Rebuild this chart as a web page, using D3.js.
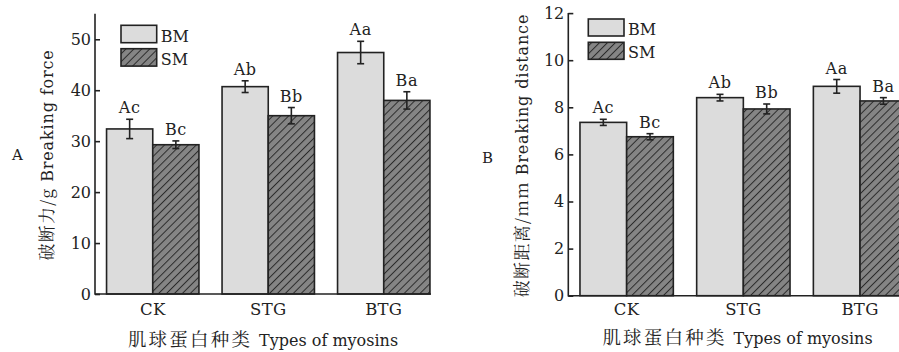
<!DOCTYPE html>
<html>
<head>
<meta charset="utf-8" />
<title>Breaking force and distance</title>
<style>
  body { margin: 0; background: #fff; }
</style>
</head>
<body>
<svg id="chart" width="899" height="352"></svg>
<script src="https://cdn.jsdelivr.net/npm/d3@7"></script>
<script>
// data
const categories = ["CK", "STG", "BTG"];
const series = ["BM", "SM"];

const forceBM = [32.4, 40.7, 47.4];
const forceBMErr = [1.9, 1.15, 2.2];
const forceSM = [29.3, 35.0, 38.0];
const forceSMErr = [0.75, 1.6, 1.7];

const distBM = [7.36, 8.41, 8.89];
const distBMErr = [0.13, 0.14, 0.29];
const distSM = [6.75, 7.93, 8.27];
const distSMErr = [0.13, 0.21, 0.14];

const lettersBM = ["Ac", "Ab", "Aa"];
const lettersSM = ["Bc", "Bb", "Ba"];

const forceTicks = [0, 10, 20, 30, 40, 50];
const distTicks = [0, 2, 4, 6, 8, 10, 12];

const SERIF = "'DejaVu Serif', 'Liberation Serif', serif";
const CJK = "'Noto Serif CJK SC', 'Noto Sans CJK SC', serif";
const INK = "#222";

const svg = d3.select("#chart");

const defs = svg.append("defs");
const pat = defs.append("pattern")
  .attr("id", "hatch")
  .attr("patternUnits", "userSpaceOnUse")
  .attr("width", 5.6).attr("height", 5.6)
  .attr("patternTransform", "rotate(45)");
pat.append("rect").attr("width", 5.6).attr("height", 5.6).attr("fill", "#858585");
pat.append("line").attr("x1", 0).attr("y1", 0).attr("x2", 0).attr("y2", 5.6)
  .attr("stroke", "#2b2b2b").attr("stroke-width", 2);

const fills = { BM: "#dcdcdc", SM: "url(#hatch)" };

function drawPanel(p) {
  const g = svg.append("g");

  const x = d3.scaleBand().domain(categories)
    .range([p.x0, p.x0 + 3 * p.step])
    .paddingInner(0.2).paddingOuter(0.1).align(0.5);
  const xs = d3.scaleBand().domain(series).range([0, x.bandwidth()]);
  const y = d3.scaleLinear().domain([0, p.yMax]).range([p.base, p.top]);

  const rows = [];
  categories.forEach((c, i) => {
    rows.push({ c, s: "BM", v: p.bm[i], e: p.bmErr[i], l: lettersBM[i] });
    rows.push({ c, s: "SM", v: p.sm[i], e: p.smErr[i], l: lettersSM[i] });
  });

  g.selectAll("rect.bar").data(rows).enter().append("rect")
    .attr("class", "bar")
    .attr("x", d => x(d.c) + xs(d.s))
    .attr("y", d => y(d.v))
    .attr("width", xs.bandwidth())
    .attr("height", d => y(0) - y(d.v))
    .attr("fill", d => fills[d.s])
    .attr("stroke", INK).attr("stroke-width", 1.6);

  const eb = g.selectAll("g.err").data(rows).enter().append("g")
    .attr("stroke", INK).attr("stroke-width", 1.6);
  const cx = d => x(d.c) + xs(d.s) + xs.bandwidth() / 2;
  eb.append("line").attr("x1", cx).attr("x2", cx)
    .attr("y1", d => y(d.v + d.e)).attr("y2", d => y(d.v - d.e));
  eb.append("line").attr("x1", d => cx(d) - 3.5).attr("x2", d => cx(d) + 3.5)
    .attr("y1", d => y(d.v + d.e)).attr("y2", d => y(d.v + d.e));
  eb.append("line").attr("x1", d => cx(d) - 3.5).attr("x2", d => cx(d) + 3.5)
    .attr("y1", d => y(d.v - d.e)).attr("y2", d => y(d.v - d.e));

  g.selectAll("text.sig").data(rows).enter().append("text")
    .attr("x", cx).attr("y", d => y(d.v + d.e) - 6)
    .attr("text-anchor", "middle")
    .style("font-family", SERIF).style("font-size", "16px").style("letter-spacing", "0.6px")
    .attr("fill", INK)
    .text(d => d.l);

  // y axis, inward ticks
  const ya = g.append("g").attr("transform", `translate(${p.x0},0)`)
    .call(d3.axisLeft(y).tickValues(p.ticks).tickSizeInner(-5).tickSizeOuter(0).tickPadding(4));
  ya.select(".domain").remove();
  ya.selectAll(".tick line").attr("stroke", INK).attr("stroke-width", 1.6);
  ya.selectAll(".tick text").style("font-family", SERIF).style("font-size", "16px").attr("fill", INK);
  g.append("line").attr("x1", p.x0).attr("x2", p.x0).attr("y1", p.base + 0.8).attr("y2", p.top)
    .attr("stroke", INK).attr("stroke-width", 1.6);

  // x axis
  const lastEnd = x(categories[2]) + x.bandwidth();
  g.append("line").attr("x1", p.x0).attr("x2", lastEnd + 1).attr("y1", p.base).attr("y2", p.base)
    .attr("stroke", INK).attr("stroke-width", 1.6);
  const xa = g.append("g").attr("transform", `translate(0,${p.base})`)
    .call(d3.axisBottom(x).tickSize(0).tickPadding(p.xPad));
  xa.select(".domain").remove();
  xa.selectAll(".tick text").style("font-family", SERIF).style("font-size", "16.5px")
    .style("letter-spacing", "0.3px").attr("fill", INK);

  // titles
  const xt = g.append("text").attr("x", p.xTitleX).attr("y", p.xTitleY)
    .attr("text-anchor", "middle").attr("fill", INK);
  xt.append("tspan").style("font-family", CJK).style("font-size", "18.5px")
    .style("letter-spacing", "2.2px").text("肌球蛋白种类 ");
  xt.append("tspan").style("font-family", SERIF).style("font-size", "16px")
    .text("Types of myosins");

  const yt = g.append("text")
    .attr("transform", `translate(${p.yTitleX},${p.yTitleY}) rotate(-90)`)
    .attr("text-anchor", "middle").attr("fill", INK);
  yt.append("tspan").style("font-family", CJK).style("font-size", "17px")
    .style("letter-spacing", "1.3px").text(p.yCn);
  yt.append("tspan").style("font-family", SERIF).style("font-size", "16px")
    .style("letter-spacing", "0.85px").text(p.yEn);

  g.append("text").attr("x", p.labelX).attr("y", p.labelY)
    .style("font-family", SERIF).style("font-size", "15px").attr("fill", INK).text(p.label);

  // legend
  const lg = g.append("g");
  series.forEach((s, i) => {
    lg.append("rect").attr("x", p.legX).attr("y", p.legY + i * p.legGap)
      .attr("width", p.legW).attr("height", p.legH)
      .attr("fill", fills[s]).attr("stroke", INK).attr("stroke-width", 1.6);
    lg.append("text").attr("x", p.legX + p.legW + 4).attr("y", p.legY + i * p.legGap + p.legH - 1)
      .style("font-family", SERIF).style("font-size", "16px")
      .attr("fill", INK).text(s);
  });
}

drawPanel({
  x0: 95, step: 115.5, base: 294, top: 13.8, yMax: 55, xPad: 9.5,
  bm: forceBM, bmErr: forceBMErr, sm: forceSM, smErr: forceSMErr, ticks: forceTicks,
  xTitleX: 263, xTitleY: 346, yTitleX: 53, yTitleY: 155,
  yCn: "破断力/g ", yEn: "Breaking force",
  label: "A", labelX: 12, labelY: 160,
  legX: 121, legY: 25.3, legGap: 23.4, legW: 35.7, legH: 17.4
});

drawPanel({
  x0: 568.3, step: 116.7, base: 295.7, top: 13.1, yMax: 12, xPad: 8,
  bm: distBM, bmErr: distBMErr, sm: distSM, smErr: distSMErr, ticks: distTicks,
  xTitleX: 737.5, xTitleY: 344, yTitleX: 528, yTitleY: 155.5,
  yCn: "破断距离/mm ", yEn: "Breaking distance",
  label: "B", labelX: 482, labelY: 163,
  legX: 588.3, legY: 19, legGap: 23.3, legW: 35.7, legH: 17
});
</script>
</body>
</html>
